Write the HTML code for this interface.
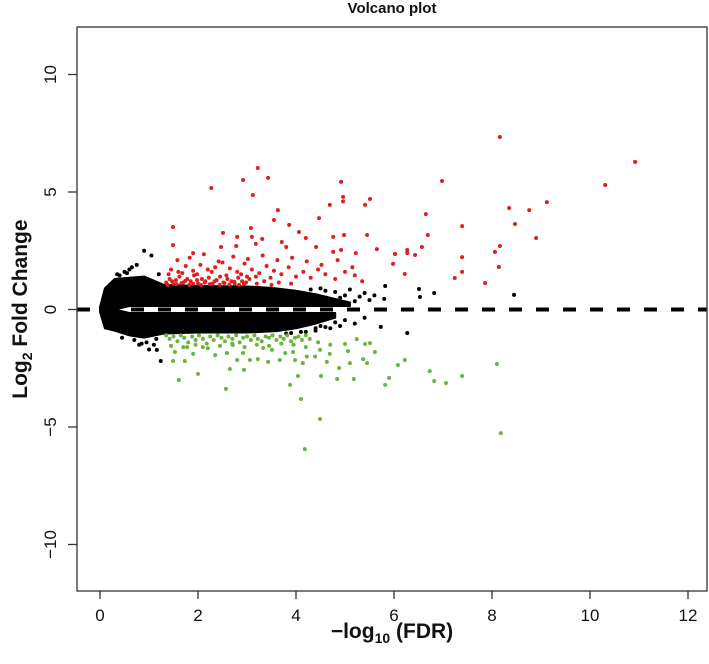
<!DOCTYPE html>
<html><head><meta charset="utf-8"><style>
html,body{margin:0;padding:0;background:#fff;}
svg{display:block;font-family:"Liberation Sans",Arial,sans-serif;}
</style></head><body>
<svg id="chart" width="709" height="664" xmlns="http://www.w3.org/2000/svg"></svg>
<script>
const xTicks=[0,2,4,6,8,10,12];
const yTicks=[-10,-5,0,5,10];
const upperEnvX=[0,0.1,0.3,0.6,0.9,1.3,2,3,3.5,4,4.4,4.8,5.1];
const upperEnvTop=[0.1,0.9,1.3,1.35,1.4,1.05,1.0,0.98,0.92,0.8,0.65,0.45,0.3];
const lowerEnvX=[0,0.1,0.3,0.6,0.9,1.3,2,3,3.6,4,4.4,4.8];
const lowerEnvBot=[-0.1,-0.8,-0.9,-1.1,-1.2,-1.02,-0.98,-0.98,-0.92,-0.8,-0.6,-0.35];
const blackX=[5.82,6.51,6.53,6.82,8.45,5.73,6.27,1.24,1.16,1.1,0.6,0.75,0.9,1.05,0.5,0.45,0.8,1.0,4.5,4.8,5.0,5.3,5.5,5.1,4.7,4.9,5.2,4.4,4.6,3.9,4.2,0.35,0.55,0.7,0.95,1.15,0.4,0.65,0.85,1.2,4.3,4.6,5.4,5.6,5.8,4.9,5.2,4.5,4.8,5.0,5.4,3.8,4.1,4.4];
const blackY=[1.0,0.87,0.53,0.7,0.62,-0.74,-1.0,-2.19,-1.72,-1.5,1.7,1.9,2.5,2.3,1.6,-1.2,-1.5,-1.7,0.9,0.75,0.6,0.55,0.4,0.85,-0.8,-0.7,-0.6,-0.9,-0.75,-1.0,-0.95,1.5,1.55,-1.3,-1.4,-1.25,1.45,1.8,-1.45,1.5,0.85,0.8,0.7,0.6,0.45,0.5,0.35,-0.7,-0.55,-0.45,-0.35,-1.02,-0.95,-0.8];
const redX=[8.16,10.92,10.31,6.98,9.12,8.35,8.76,6.65,8.47,7.39,6.69,8.9,6.57,8.16,8.06,6.27,6.27,6.43,6.02,5.98,7.39,7.39,8.14,6.22,7.24,7.86,
3.22,2.92,3.43,2.27,3.12,4.92,4.96,4.96,5.51,5.41,4.69,3.63,3.55,4.47,3.86,1.49,3.08,4.06,2.51,4.98,5.45,4.76,4.2,1.49,2.8,3.1,3.31,2.47,2.78,3.71,3.8,4.41,3.18,1.9,4.92,5.22,5.65,6.02,4.76,
1.35,1.42,1.5,1.55,1.62,1.7,1.78,1.85,1.92,2.0,2.08,2.15,2.22,2.3,2.38,2.45,2.52,2.6,2.68,2.75,2.82,2.9,2.98,3.05,1.45,1.6,1.75,1.9,2.05,2.2,2.35,2.5,2.65,2.8,2.95,3.1,3.25,3.4,3.55,3.7,3.85,4.0,4.15,4.3,4.45,4.6,4.8,5.0,5.2,5.35,1.58,1.83,2.12,2.42,2.72,3.02,3.32,3.62,3.92,4.22,4.52,4.85,5.15,1.4,1.68,1.98,2.28,2.58,2.88,3.18,3.48,
1.38,1.47,1.56,1.66,1.74,1.82,1.9,1.98,2.06,2.14,2.24,2.34,2.44,2.54,2.64,2.74,2.84,2.94,3.0,3.2,3.35,3.5,3.65,3.9];
const redY=[7.34,6.28,5.3,5.47,4.57,4.32,4.23,4.06,3.64,3.55,3.17,3.04,2.66,2.7,2.45,2.53,2.4,2.32,2.36,1.94,2.23,1.6,1.81,1.51,1.34,1.13,
6.02,5.51,5.6,5.17,4.87,5.43,4.79,4.6,4.7,4.45,4.45,4.23,3.81,3.89,3.6,3.51,3.47,3.3,3.26,3.17,3.17,3.09,3.04,2.74,3.09,3.09,3.0,2.66,2.7,2.87,2.66,2.66,2.79,2.4,2.53,2.4,2.57,2.36,2.45,
1.15,1.3,1.1,1.25,1.4,1.15,1.3,1.2,1.45,1.1,1.3,1.2,1.35,1.1,1.25,1.4,1.15,1.3,1.2,1.1,1.35,1.2,1.15,1.3,1.7,1.6,1.85,1.65,1.9,1.7,1.8,2.0,1.75,1.6,1.95,1.7,1.55,1.85,1.65,1.5,1.8,1.4,1.6,1.35,1.7,1.5,1.3,1.6,1.45,1.2,2.1,2.2,2.35,2.05,2.25,2.15,2.3,2.1,2.2,2.05,1.9,2.1,1.8,1.5,1.55,1.5,1.6,1.45,1.5,1.4,1.35,
1.05,1.2,1.08,1.12,1.22,1.05,1.1,1.25,1.05,1.15,1.08,1.2,1.05,1.12,1.06,1.18,1.05,1.1,1.4,1.1,1.2,1.05,1.15,1.1];
const greenX=[6.22,6.08,5.9,5.82,6.73,6.82,7.06,7.39,8.1,8.18,
1.61,2.0,2.57,2.65,2.94,3.88,4.04,4.1,4.49,4.18,4.51,4.84,5.18,5.37,5.24,5.51,5.41,5.0,5.06,4.63,4.69,4.14,3.98,4.22,4.39,4.49,3.94,3.67,3.43,3.22,3.06,2.8,2.59,2.35,2.1,1.9,1.73,1.49,1.53,1.78,2.92,3.51,3.78,3.33,2.71,5.45,5.61,4.88,5.1,
1.35,1.42,1.5,1.58,1.65,1.72,1.8,1.88,1.95,2.02,2.1,2.18,2.25,2.32,2.4,2.48,2.55,2.62,2.7,2.78,2.85,2.92,3.0,3.08,3.15,3.22,3.3,3.38,3.45,3.52,3.6,3.68,3.75,3.82,3.9,3.98,4.05,4.12,4.2,4.28,1.45,1.7,1.95,2.2,2.45,2.7,2.95,3.2,3.45,3.7,3.95,4.2,4.45,4.7];
const greenY=[-2.15,-2.36,-2.91,-3.21,-2.62,-3.04,-3.13,-2.83,-2.32,-5.26,
-3.0,-2.74,-3.38,-2.53,-2.57,-3.21,-2.83,-3.81,-4.66,-5.94,-2.83,-2.96,-2.96,-2.11,-1.26,-1.43,-1.47,-1.47,-1.77,-2.23,-1.89,-2.28,-2.15,-2.0,-2.0,-1.72,-1.81,-2.15,-2.23,-2.11,-2.15,-2.15,-1.85,-1.94,-1.6,-1.89,-2.19,-2.19,-1.81,-1.6,-1.85,-1.72,-1.85,-1.64,-1.51,-2.28,-1.81,-2.49,-2.28,
-1.1,-1.25,-1.15,-1.35,-1.1,-1.2,-1.4,-1.15,-1.3,-1.1,-1.25,-1.45,-1.15,-1.3,-1.1,-1.2,-1.35,-1.15,-1.25,-1.1,-1.4,-1.2,-1.15,-1.3,-1.1,-1.25,-1.35,-1.15,-1.2,-1.1,-1.3,-1.15,-1.25,-1.1,-1.35,-1.2,-1.15,-1.3,-1.1,-1.25,-1.55,-1.6,-1.5,-1.65,-1.55,-1.45,-1.6,-1.5,-1.55,-1.45,-1.5,-1.6,-1.4,-1.5];

const svg=document.getElementById('chart');
const NS='http://www.w3.org/2000/svg';
const L=77,R=707,T=27,B=591;
function sx(v){return 100+v*49;}
function sy(v){return 309.5-v*23.5;}
function mk(tag,attrs,parent){const e=document.createElementNS(NS,tag);for(const k in attrs)e.setAttribute(k,attrs[k]);(parent||svg).appendChild(e);return e;}

const clip=mk('clipPath',{id:'pc'});mk('rect',{x:L,y:T,width:R-L,height:B-T},clip);
const plot=mk('g',{'clip-path':'url(#pc)'});



let up=upperEnvX.map((x,i)=>sx(x)+','+sy(upperEnvTop[i]));
let upIn=upperEnvX.slice().reverse().map(x=>sx(x)+','+sy(x<0.6?0:0.15));
const cu=mk('polygon',{points:up.concat(upIn).join(' '),fill:'#000',stroke:'#000','stroke-width':2,'stroke-linejoin':'round'},plot);


let lo=lowerEnvX.map((x,i)=>sx(x)+','+sy(lowerEnvBot[i]));
let loIn=lowerEnvX.slice().reverse().map(x=>sx(x)+','+sy(x<0.6?0:-0.15));
const cl=mk('polygon',{points:lo.concat(loIn).join(' '),fill:'#000',stroke:'#000','stroke-width':2,'stroke-linejoin':'round'},plot);



function pts(xs,ys,color,name){
  for(let i=0;i<xs.length;i++){
    const c=mk('circle',{cx:sx(xs[i]),cy:sy(ys[i]),r:2,fill:color},plot);
    
    
  }
}
pts(blackX,blackY,'#000','point-ns');
pts(redX,redY,'#e02020','point-up');
pts(greenX,greenY,'#6db33f','point-down');

const dl=mk('line',{x1:L,x2:R,y1:sy(0),y2:sy(0),stroke:'#000','stroke-width':4,'stroke-dasharray':'13 14'});



const fr=mk('rect',{x:L,y:T,width:R-L,height:B-T,fill:'none',stroke:'#333','stroke-width':1.3});



xTicks.forEach(v=>{
  const t=mk('line',{x1:sx(v),x2:sx(v),y1:B,y2:B+8,stroke:'#333','stroke-width':1.3});
  
  
  const tx=mk('text',{x:sx(v),y:B+30,'text-anchor':'middle','font-size':17,fill:'#111'});
  tx.textContent=v;
  
  
});
yTicks.forEach(v=>{
  const t=mk('line',{x1:L-9,x2:L,y1:sy(v),y2:sy(v),stroke:'#333','stroke-width':1.3});
  
  
  const tx=mk('text',{x:0,y:0,'text-anchor':'middle','font-size':17,fill:'#111',transform:'translate(56,'+sy(v)+') rotate(-90)'});
  tx.textContent=(v<0?'\u2212':'')+Math.abs(v);
  
  
});
</script>
<div style="position:absolute;left:0;top:0;width:709px;height:664px;pointer-events:none;font-family:'Liberation Sans',Arial,sans-serif;">
  <div style="position:absolute;left:292px;width:200px;top:0px;text-align:center;font-weight:bold;font-size:15px;color:#111;">Volcano plot</div>
  <div style="position:absolute;left:242px;width:300px;top:620px;text-align:center;font-weight:bold;font-size:21px;color:#111;">&minus;log<sub style="font-size:14px;">10</sub> (FDR)</div>
  <div style="position:absolute;left:-128px;top:296px;width:300px;text-align:center;font-weight:bold;font-size:21px;color:#111;transform:rotate(-90deg);">Log<sub style="font-size:14px;">2</sub> Fold Change</div>
</div>
</body></html>
